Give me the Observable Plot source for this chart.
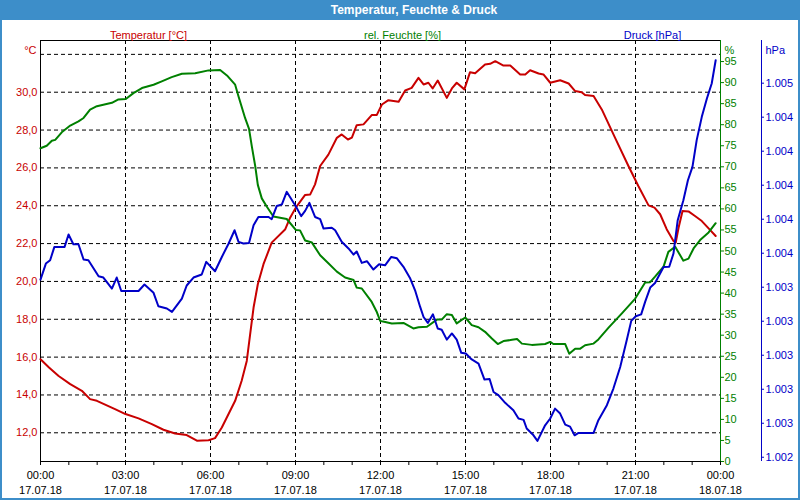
<!DOCTYPE html>
<html><head><meta charset="utf-8">
<script src="https://cdn.jsdelivr.net/npm/d3@7"></script>
<script src="https://cdn.jsdelivr.net/npm/@observablehq/plot@0.6"></script>
<style>
html,body{margin:0;padding:0;background:#fff;}
#wrap{position:relative;width:800px;height:500px;overflow:hidden;font-family:"Liberation Sans",Arial,sans-serif;}
#title{position:absolute;left:0;top:0;width:800px;height:20px;box-sizing:border-box;padding-left:28px;background:#3d8ec9;color:#fff;font-weight:bold;font-size:12px;line-height:20px;text-align:center;}
#chart{position:absolute;left:0;top:20px;}
#border{position:absolute;left:0;top:0;width:800px;height:500px;box-sizing:border-box;border:2px solid #3d8ec9;border-top:none;pointer-events:none;}
</style></head>
<body><div id="wrap"><div id="title">Temperatur, Feuchte &amp; Druck</div><div id="chart"></div><div id="border"></div></div>
<script>
// time in hours (17.07.18 00:00 = 0)
const temperature = [[0,15.89],[0.3,15.45],[0.64,15.0],[1.05,14.57],[1.46,14.22],[1.75,13.78],[1.99,13.69],[2.63,13.25],[3.0,12.99],[3.46,12.76],[3.93,12.46],[4.34,12.16],[4.75,11.96],[5.16,11.88],[5.52,11.58],[5.93,11.61],[6.16,11.72],[6.4,12.28],[6.87,13.69],[7.1,14.75],[7.28,15.8],[7.4,17.21],[7.52,18.62],[7.67,19.85],[7.87,20.91],[8.16,22.05],[8.64,22.76],[8.81,23.37],[9.01,23.9],[9.34,24.57],[9.52,24.6],[9.69,25.13],[9.87,26.1],[10.16,26.7],[10.46,27.59],[10.63,27.77],[10.85,27.5],[10.99,27.6],[11.16,28.26],[11.4,28.3],[11.69,28.79],[11.87,28.8],[12.05,29.35],[12.28,29.58],[12.64,29.5],[12.87,30.09],[13.1,30.23],[13.34,30.76],[13.52,30.41],[13.69,30.5],[13.84,30.2],[14.02,30.62],[14.34,29.7],[14.52,30.2],[14.69,30.5],[14.96,30.15],[15.16,31.06],[15.34,31.0],[15.69,31.47],[15.87,31.5],[16.05,31.64],[16.34,31.41],[16.58,31.41],[16.93,30.94],[17.11,30.94],[17.28,31.16],[17.58,30.99],[17.75,30.94],[17.99,30.5],[18.34,30.63],[18.64,30.46],[18.87,30.06],[19.1,30.0],[19.22,29.85],[19.52,29.8],[19.81,29.09],[20.28,27.59],[20.75,26.1],[21.1,25.04],[21.46,24.02],[21.67,23.9],[21.87,23.55],[22.1,22.76],[22.34,22.14],[22.42,22.05],[22.52,22.84],[22.66,23.72],[22.87,23.7],[23.1,23.46],[23.34,23.19],[23.58,22.8],[23.83,22.4]];
const humidity = [[0,74.4],[0.22,75.0],[0.4,76.2],[0.52,76.4],[0.75,78.2],[1.05,79.8],[1.34,80.8],[1.52,81.6],[1.75,83.6],[1.99,84.4],[2.52,85.2],[2.75,86.0],[3.01,86.1],[3.28,87.5],[3.58,88.7],[3.99,89.5],[4.28,90.3],[4.63,91.3],[4.99,92.1],[5.46,92.2],[5.93,92.9],[6.34,93.0],[6.58,91.7],[6.87,89.5],[6.99,86.7],[7.22,81.6],[7.36,79.0],[7.46,74.8],[7.58,70.1],[7.67,65.7],[7.81,62.5],[7.99,60.5],[8.22,58.2],[8.69,57.6],[9.01,55.0],[9.16,54.9],[9.34,52.5],[9.58,52.0],[9.87,49.0],[10.16,47.1],[10.46,45.1],[10.75,43.7],[11.05,43.1],[11.16,41.3],[11.34,41.1],[11.69,37.9],[11.87,35.5],[11.99,33.4],[12.05,33.3],[12.4,32.8],[12.81,32.9],[13.16,31.6],[13.34,31.9],[13.64,32.0],[13.99,33.7],[14.16,33.7],[14.34,35.0],[14.52,34.8],[14.69,32.8],[14.99,34.2],[15.22,32.4],[15.46,31.9],[15.69,30.8],[15.93,29.2],[16.14,27.9],[16.34,28.6],[16.64,28.9],[16.82,29.1],[16.99,28.0],[17.34,27.7],[17.81,27.9],[17.99,28.4],[18.1,27.9],[18.52,27.9],[18.66,25.6],[18.87,26.8],[19.05,26.8],[19.22,27.6],[19.52,28.0],[19.69,29.0],[20.05,31.8],[20.52,35.2],[20.99,38.7],[21.34,42.5],[21.52,42.6],[21.69,43.9],[21.99,46.3],[22.16,49.8],[22.4,51.0],[22.54,49.4],[22.69,47.7],[22.87,48.2],[23.05,50.6],[23.28,52.6],[23.58,54.4],[23.83,56.6]];
const pressure = [[0,1003.445],[0.19,1003.539],[0.34,1003.559],[0.49,1003.637],[0.85,1003.637],[0.99,1003.71],[1.16,1003.653],[1.34,1003.653],[1.52,1003.563],[1.69,1003.559],[2.05,1003.465],[2.22,1003.457],[2.52,1003.392],[2.69,1003.457],[2.85,1003.378],[3.46,1003.378],[3.67,1003.416],[3.99,1003.367],[4.16,1003.288],[4.46,1003.275],[4.64,1003.255],[4.99,1003.333],[5.16,1003.41],[5.4,1003.457],[5.69,1003.475],[5.85,1003.549],[6.16,1003.494],[6.4,1003.578],[6.64,1003.657],[6.85,1003.735],[6.99,1003.667],[7.16,1003.657],[7.36,1003.66],[7.52,1003.765],[7.69,1003.813],[8.05,1003.813],[8.16,1003.8],[8.34,1003.878],[8.52,1003.887],[8.69,1003.961],[9.01,1003.876],[9.2,1003.818],[9.34,1003.849],[9.49,1003.896],[9.69,1003.813],[9.87,1003.8],[9.99,1003.745],[10.28,1003.75],[10.4,1003.735],[10.63,1003.667],[10.87,1003.628],[11.05,1003.592],[11.16,1003.61],[11.34,1003.543],[11.52,1003.553],[11.75,1003.504],[11.95,1003.535],[12.16,1003.529],[12.38,1003.578],[12.58,1003.57],[12.81,1003.52],[13.05,1003.451],[13.22,1003.382],[13.4,1003.284],[13.52,1003.225],[13.67,1003.19],[13.85,1003.241],[14.02,1003.157],[14.16,1003.15],[14.34,1003.092],[14.52,1003.128],[14.69,1003.092],[14.85,1003.014],[15.01,1003.01],[15.22,1002.975],[15.46,1002.951],[15.67,1002.857],[15.85,1002.86],[15.99,1002.784],[16.16,1002.765],[16.4,1002.72],[16.69,1002.676],[16.87,1002.628],[17.05,1002.62],[17.16,1002.569],[17.4,1002.529],[17.54,1002.496],[17.81,1002.588],[17.99,1002.628],[18.16,1002.686],[18.34,1002.657],[18.52,1002.592],[18.69,1002.58],[18.85,1002.529],[18.99,1002.543],[19.52,1002.543],[19.69,1002.618],[19.99,1002.706],[20.22,1002.804],[20.46,1002.931],[20.69,1003.088],[20.85,1003.202],[21.01,1003.229],[21.2,1003.24],[21.34,1003.314],[21.52,1003.398],[21.69,1003.425],[21.99,1003.519],[22.19,1003.52],[22.34,1003.598],[22.49,1003.794],[22.69,1003.912],[22.85,1004.029],[23.01,1004.108],[23.16,1004.265],[23.34,1004.402],[23.52,1004.51],[23.69,1004.598],[23.75,1004.657],[23.83,1004.735]];

const tempTicks = [12,14,16,18,20,22,24,26,28,30];
const tempGrid = [12,14,16,18,20,22,24,26,28,30,32];
const humTicks = [0,5,10,15,20,25,30,35,40,45,50,55,60,65,70,75,80,85,90,95];
const pressTicks = [1002.4,1002.6,1002.8,1003.0,1003.2,1003.4,1003.6,1003.8,1004.0,1004.2,1004.4,1004.6];
const hourTicks = [0,1,2,3,4,5,6,7,8,9,10,11,12,13,14,15,16,17,18,19,20,21,22,23,24];
const timeGrid = [3,6,9,12,15,18,21];
const xLabelTicks = [0,3,6,9,12,15,18,21,24];
const xTickLabels = ["00:00\n17.07.18","03:00\n17.07.18","06:00\n17.07.18","09:00\n17.07.18","12:00\n17.07.18","15:00\n17.07.18","18:00\n17.07.18","21:00\n17.07.18","00:00\n18.07.18"];

const RED = "#c80000", GREEN = "#008000", BLUE = "#0000c8";
const tDom = [10.483, 32.733], hDom = [0, 100], pDom = [1002.375, 1004.851];
const hToT = d3.scaleLinear(hDom, tDom), pToT = d3.scaleLinear(pDom, tDom);
const pAxisX = 25.447;
const de = d3.formatLocale({decimal: ",", thousands: ".", grouping: [3], currency: ["", "€"]});
const fmtP = de.format(",.0f");
const dash = "4,3";

const chart = Plot.plot({
  width: 800, height: 480,
  marginLeft: 40, marginRight: 80, marginTop: 20, marginBottom: 39,
  style: {fontFamily: "Liberation Sans, Arial, sans-serif", fontSize: "11px", background: "transparent", overflow: "visible"},
  x: {domain: [0, 24], axis: null},
  y: {domain: tDom, axis: null},
  marks: [
    Plot.gridY(tempGrid, {stroke: "#000", strokeOpacity: 1, strokeDasharray: dash}),
    Plot.gridX(timeGrid, {stroke: "#000", strokeOpacity: 1, strokeDasharray: dash}),
    Plot.ruleY([tDom[1]], {stroke: "#000"}),
    Plot.ruleY([tDom[0]], {stroke: "#000"}),
    Plot.ruleX([0], {stroke: "#000"}),
    Plot.ruleX([24], {stroke: GREEN}),
    Plot.ruleX([pAxisX], {stroke: BLUE}),
    Plot.axisY(tempTicks, {anchor: "left", tickSize: 0, tickPadding: 3, tickFormat: d => d.toFixed(1).replace(".", ","), color: RED, label: null}),
    Plot.axisY(humTicks.map(d => hToT(d)), {anchor: "right", tickSize: 3, tickPadding: 1, tickFormat: d => String(Math.round(hToT.invert(d))), color: GREEN, label: null}),
    Plot.ruleY(pressTicks, {y: d => pToT(d), x1: pAxisX, x2: pAxisX + 0.106, stroke: BLUE}),
    Plot.text(pressTicks, {y: d => pToT(d), x: pAxisX, dx: 4, textAnchor: "start", text: d => fmtP(d), fill: BLUE}),
    Plot.axisX(hourTicks, {anchor: "bottom", tickSize: 4, tickFormat: () => "", label: null}),
    Plot.text(xLabelTicks, {x: d => d, text: (d, i) => xTickLabels[i], frameAnchor: "bottom", lineAnchor: "top", dy: 7, lineHeight: 1.36, fill: "#000"}),
    Plot.text(["°C"], {text: d => d, frameAnchor: "top-left", dx: -4, dy: 6, textAnchor: "end", fill: RED}),
    Plot.text(["%"], {text: d => d, frameAnchor: "top-right", dx: 4, dy: 6, textAnchor: "start", fill: GREEN}),
    Plot.text(["hPa"], {text: d => d, frameAnchor: "top-right", dx: 45, dy: 6, textAnchor: "start", fill: BLUE}),
    Plot.text(["Temperatur [°C]"], {text: d => d, frameAnchor: "top-left", dx: 108, dy: -9, textAnchor: "middle", fill: RED}),
    Plot.text(["rel. Feuchte [%]"], {text: d => d, frameAnchor: "top", dx: 22, dy: -9, textAnchor: "middle", fill: GREEN}),
    Plot.text(["Druck [hPa]"], {text: d => d, frameAnchor: "top-right", dx: -68, dy: -9, textAnchor: "middle", fill: BLUE}),
    Plot.line(temperature, {x: d => d[0], y: d => d[1], stroke: RED, strokeWidth: 2}),
    Plot.line(humidity, {x: d => d[0], y: d => hToT(d[1]), stroke: GREEN, strokeWidth: 2}),
    Plot.line(pressure, {x: d => d[0], y: d => pToT(d[1]), stroke: BLUE, strokeWidth: 2})
  ]
});
document.getElementById("chart").appendChild(chart);
</script></body></html>
